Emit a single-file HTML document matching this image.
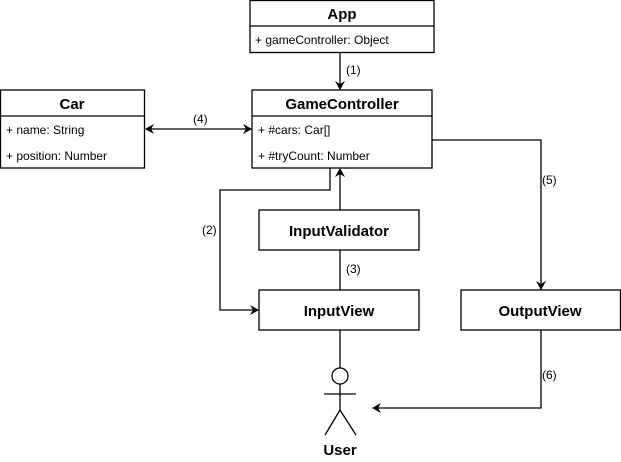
<!DOCTYPE html>
<html><head><style>body{margin:0;background:#fff}svg{display:block}text{font-family:"Liberation Sans",Arial,sans-serif;fill:#000}</style></head>
<body>
<svg width="621" height="462" viewBox="0 0 621 462" xmlns="http://www.w3.org/2000/svg">
<defs><marker id="a" markerWidth="10" markerHeight="10" refX="8" refY="5" orient="auto" markerUnits="userSpaceOnUse"><path d="M0,0 L9,5 L0,10 L3,5 Z" fill="#000"/></marker>
<marker id="s" markerWidth="10" markerHeight="10" refX="1" refY="5" orient="auto" markerUnits="userSpaceOnUse"><path d="M9,0 L0,5 L9,10 L6,5 Z" fill="#000"/></marker></defs>
<g fill="#fff" stroke="#000" stroke-width="1.3">
<rect x="250" y="0.5" width="184" height="52"/><line x1="250" y1="26" x2="434" y2="26"/>
<rect x="0.5" y="90" width="144" height="78"/><line x1="0.5" y1="116" x2="144.5" y2="116"/>
<rect x="252" y="90" width="180" height="78"/><line x1="252" y1="116" x2="432" y2="116"/>
<rect x="259" y="210" width="160" height="40"/>
<rect x="259" y="290" width="160" height="40"/>
<rect x="461" y="290" width="159.5" height="40"/>
</g>
<g fill="none" stroke="#000" stroke-width="1.3">
<line x1="340" y1="53" x2="340" y2="89" marker-end="url(#a)"/>
<line x1="146" y1="129" x2="251" y2="129" marker-start="url(#s)" marker-end="url(#a)"/>
<polyline points="432,140 541,140 541,289" marker-end="url(#a)"/>
<polyline points="330,168 330,190 220,190 220,310 258,310" marker-end="url(#a)"/>
<line x1="340" y1="210" x2="340" y2="169" marker-end="url(#a)"/>
<line x1="340" y1="250" x2="340" y2="290"/>
<line x1="340" y1="330" x2="340" y2="368"/>
<polyline points="541,330 541,408 373,408" marker-end="url(#a)"/>
<circle cx="340" cy="376" r="8" fill="#fff"/>
<line x1="340" y1="384" x2="340" y2="410"/>
<line x1="324" y1="394" x2="356" y2="394"/>
<polyline points="325,435 340,410 356,435"/>
</g>
<g font-size="15" font-weight="bold" text-anchor="middle">
<text x="342" y="19">App</text>
<text x="72" y="109">Car</text>
<text x="342" y="109">GameController</text>
<text x="339" y="236">InputValidator</text>
<text x="339" y="316">InputView</text>
<text x="540" y="316">OutputView</text>
<text x="340" y="455">User</text>
</g>
<g font-size="12">
<text x="255" y="44">+ gameController: Object</text>
<text x="6" y="134">+ name: String</text>
<text x="6" y="160">+ position: Number</text>
<text x="258" y="134">+ #cars: Car[]</text>
<text x="258" y="160">+ #tryCount: Number</text>
<text x="346" y="74">(1)</text>
<text x="193" y="123">(4)</text>
<text x="542" y="184">(5)</text>
<text x="202" y="234">(2)</text>
<text x="346" y="273">(3)</text>
<text x="542" y="379">(6)</text>
</g>
</svg>
</body></html>
